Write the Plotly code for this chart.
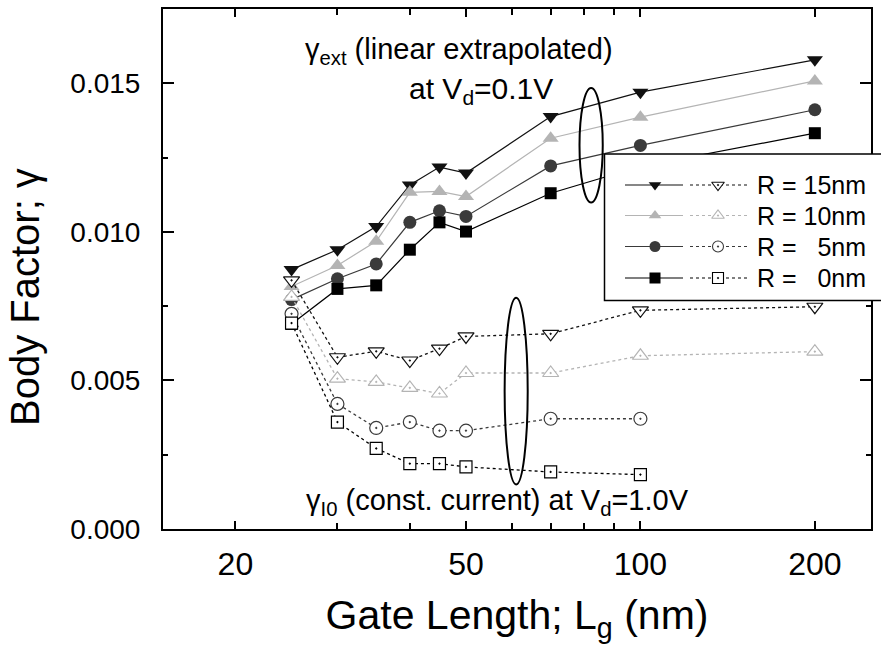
import math
import plotly.graph_objects as go

# ---------------- data ----------------
gate_length = [25, 30, 35, 40, 45, 50, 70, 100, 200]
gate_length_short = [25, 30, 35, 40, 45, 50, 70, 100]

gamma_ext_r15 = [0.00873, 0.00940, 0.01018, 0.01158, 0.01218, 0.01198, 0.01388, 0.01470, 0.01579]
gamma_ext_r10 = [0.00816, 0.00887, 0.00968, 0.01133, 0.01136, 0.01119, 0.01315, 0.01386, 0.01508]
gamma_ext_r5 = [0.00772, 0.00842, 0.00892, 0.01032, 0.01071, 0.01052, 0.01222, 0.01291, 0.01411]
gamma_ext_r0 = [0.00690, 0.00808, 0.00820, 0.00940, 0.01032, 0.01001, 0.01130, 0.01220, 0.01332]

gamma_i0_r15 = [0.00837, 0.00578, 0.00598, 0.00567, 0.00607, 0.00648, 0.00657, 0.00736, 0.00748]
gamma_i0_r10 = [0.00781, 0.00506, 0.00495, 0.00475, 0.00456, 0.00525, 0.00525, 0.00583, 0.00597]
gamma_i0_r5 = [0.00724, 0.00421, 0.00340, 0.00360, 0.00331, 0.00331, 0.00371, 0.00371]
gamma_i0_r0 = [0.00693, 0.00360, 0.00271, 0.00220, 0.00220, 0.00209, 0.00192, 0.00183]

series_labels = ["R = 15nm", "R = 10nm", "R =\u00a0\u00a0\u00a05nm", "R =\u00a0\u00a0\u00a00nm"]

x_tickvals = [20, 50, 100, 200]
x_ticktext = ["20", "50", "100", "200"]
x_minor = [30, 40, 60, 70, 80, 90]
y_tickvals = [0.0, 0.005, 0.010, 0.015]
y_minor = [0.0025, 0.0075, 0.0125]

# ---------------- styles ----------------
FONT = "Arial, Liberation Sans, sans-serif"
colors = ["#111111", "#b4b4b4", "#3a3a3a", "#000000"]
filled_sym = ["triangle-down", "triangle-up", "circle", "square"]
open_sym = ["triangle-down-dot", "triangle-up-dot", "circle-dot", "square-dot"]
msize = [14, 14, 13, 12]

ext_series = [gamma_ext_r15, gamma_ext_r10, gamma_ext_r5, gamma_ext_r0]
i0_series = [gamma_i0_r15, gamma_i0_r10, gamma_i0_r5, gamma_i0_r0]
i0_x = [gate_length, gate_length, gate_length_short, gate_length_short]

fig = go.Figure()

# solid (extrapolated) series
for k in range(4):
    fig.add_trace(go.Scatter(
        x=gate_length, y=ext_series[k], mode="lines+markers",
        line=dict(color=colors[k], width=1.2),
        marker=dict(symbol=filled_sym[k], size=msize[k], color=colors[k],
                    line=dict(width=0)),
        showlegend=False, cliponaxis=False))

# dotted (const current) series
for k in range(4):
    fig.add_trace(go.Scatter(
        x=i0_x[k], y=i0_series[k], mode="lines+markers",
        line=dict(color=colors[k], width=1.3, dash="dot"),
        marker=dict(symbol=open_sym[k], size=msize[k], color="white",
                    line=dict(color=colors[k], width=1.2)),
        showlegend=False, cliponaxis=False))

# ---------------- custom legend (on an auxiliary pixel-like axis) ----------------
W, H = 881, 652
ML, MR, MT, MB = 163, 0, 9, 123
plot_right = 871
paper_w = W - ML - MR
paper_h = H - MT - MB
main_dom = (plot_right - ML) / paper_w
leg_left_px = 600
leg_dom0 = (leg_left_px - ML) / paper_w

box_x = [604.5, 900, 900, 604.5, 604.5]
box_y = [154, 154, 300.5, 300.5, 154]
fig.add_trace(go.Scatter(x=box_x, y=box_y, xaxis="x2", yaxis="y2", mode="lines",
                         fill="toself", fillcolor="white",
                         line=dict(color="black", width=1.5), showlegend=False,
                         hoverinfo="skip"))
row_y = [185, 215.5, 246.5, 278]
for k in range(4):
    yy = row_y[k]
    fig.add_trace(go.Scatter(x=[625, 683], y=[yy, yy], xaxis="x2", yaxis="y2", mode="lines",
                             line=dict(color=colors[k], width=1.2), showlegend=False))
    fig.add_trace(go.Scatter(x=[655], y=[yy], xaxis="x2", yaxis="y2", mode="markers",
                             marker=dict(symbol=filled_sym[k], size=11, color=colors[k],
                                         line=dict(width=0)), showlegend=False))
    fig.add_trace(go.Scatter(x=[690, 747], y=[yy, yy], xaxis="x2", yaxis="y2", mode="lines",
                             line=dict(color=colors[k], width=1.2, dash="dot"), showlegend=False))
    fig.add_trace(go.Scatter(x=[718], y=[yy], xaxis="x2", yaxis="y2", mode="markers",
                             marker=dict(symbol=open_sym[k], size=11, color="white",
                                         line=dict(color=colors[k], width=1.1)), showlegend=False))
    fig.add_annotation(x=755, y=yy, xref="x2", yref="y2", text=series_labels[k],
                       showarrow=False, xanchor="left", yanchor="middle",
                       font=dict(family=FONT, size=25, color="black"))

# ---------------- annotations ----------------
fig.add_annotation(x=math.log10(26.2), y=0.01610, xref="x", yref="y",
                   text="\u03b3<sub>ext</sub> (linear extrapolated)", showarrow=False,
                   xanchor="left", yanchor="middle",
                   font=dict(family=FONT, size=29, color="black"))
fig.add_annotation(x=math.log10(39.6), y=0.01475, xref="x", yref="y",
                   text="at V<sub>d</sub>=0.1V", showarrow=False,
                   xanchor="left", yanchor="middle",
                   font=dict(family=FONT, size=30, color="black"))
fig.add_annotation(x=math.log10(26.3), y=0.00090, xref="x", yref="y",
                   text="\u03b3<sub>I0</sub> (const. current) at V<sub>d</sub>=1.0V", showarrow=False,
                   xanchor="left", yanchor="middle",
                   font=dict(family=FONT, size=29, color="black"))

# y-axis title (placed as rotated annotation to match its off-centre position)
fig.add_annotation(x=(25 - ML) / paper_w, y=(H - MB - 297) / paper_h, xref="paper", yref="paper",
                   text="Body Factor; \u03b3", textangle=-90, showarrow=False,
                   xanchor="center", yanchor="middle",
                   font=dict(family=FONT, size=40, color="black"))

# ellipses grouping the series
fig.add_shape(type="circle", xref="x", yref="y", x0=78.5, x1=86.1, y0=0.01099, y1=0.01484,
              line=dict(color="black", width=2), layer="above")
fig.add_shape(type="circle", xref="x", yref="y", x0=58.3, x1=63.9, y0=0.00150, y1=0.00778,
              line=dict(color="black", width=2), layer="above")

fig.update_layout(
    width=W, height=H,
    margin=dict(l=ML, r=MR, t=MT, b=MB, pad=0, autoexpand=False),
    paper_bgcolor="white", plot_bgcolor="rgba(0,0,0,0)",
    font=dict(family=FONT, color="black"),
    showlegend=False,
    xaxis=dict(
        type="log", domain=[0, main_dom], automargin=False,
        range=[math.log10(15), math.log10(250)],
        tickmode="array", tickvals=x_tickvals, ticktext=x_ticktext,
        ticks="inside", ticklen=8, tickwidth=1.5, tickcolor="black",
        minor=dict(tickmode="array", tickvals=x_minor, ticks="inside", ticklen=6,
                   tickwidth=1.5, tickcolor="black"),
        showline=True, linewidth=2, linecolor="black", mirror="ticks",
        showgrid=False, zeroline=False,
        tickfont=dict(family=FONT, size=32, color="black"),
        ticklabelstandoff=6,
        title=dict(text="Gate Length; L<sub>g</sub> (nm)",
                   font=dict(family=FONT, size=41, color="black"), standoff=19),
    ),
    yaxis=dict(
        range=[0, 0.0175], automargin=False,
        tickmode="array", tickvals=y_tickvals, tickformat=".3f",
        ticks="inside", ticklen=11, tickwidth=1.5, tickcolor="black",
        minor=dict(tickmode="array", tickvals=y_minor, ticks="inside", ticklen=5,
                   tickwidth=1.5, tickcolor="black"),
        showline=True, linewidth=2, linecolor="black", mirror="ticks",
        showgrid=False, zeroline=False,
        tickfont=dict(family=FONT, size=28, color="black"),
        ticklabelstandoff=15,
    ),
    xaxis2=dict(domain=[leg_dom0, 1], range=[leg_left_px, W], visible=False,
                showgrid=False, zeroline=False, anchor="y2", automargin=False),
    yaxis2=dict(domain=[0, 1], range=[H - MB, MT], visible=False,
                showgrid=False, zeroline=False, anchor="x2", automargin=False),
)

fig.write_html("out.html", config={"displayModeBar": False},
               post_script="document.body.style.margin='0';document.body.style.overflow='hidden';")
